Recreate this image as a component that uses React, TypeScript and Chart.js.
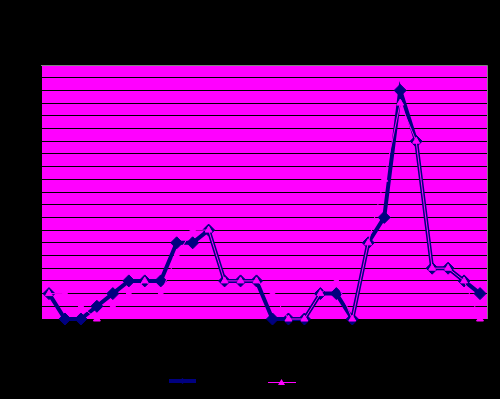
import React, { useEffect, useRef } from "react";
import { Chart, registerables } from "chart.js";

Chart.register(...registerables);

const categories = [
  "1", "2", "3", "4", "5", "6", "7", "8", "9", "10", "11", "12", "13", "14",
  "15", "16", "17", "18", "19", "20", "21", "22", "23", "24", "25", "26", "27", "28",
];
const navySeries = [2, 0, 0, 1, 2, 3, 3, 3, 6, 6, 7, 3, 3, 3, 0, 0, 0, 2, 2, 0, 6, 8, 18, 14, 4, 4, 3, 2];
const pinkSeries = [2, 2, 1, 0, 1, 2, 3, 2, 5, 7, 7, 3, 3, 3, 2, 0, 0, 2, 3, 0, 6, 11, 17, 14, 4, 4, 3, 0];
const yMin = 0;
const yMax = 20;
const yStep = 1;

const NAVY = "#000080";
const PINK = "#FF00FF";

const bgPlugin = {
  id: "bgPlugin",
  beforeDraw(chart: any) {
    const { ctx, chartArea } = chart;
    ctx.save();
    ctx.fillStyle = "#000000";
    ctx.fillRect(0, 0, chart.width, chart.height);
    ctx.fillStyle = PINK;
    ctx.fillRect(chartArea.left, chartArea.top, chartArea.right - chartArea.left, chartArea.bottom - chartArea.top);
    ctx.restore();
  },
  beforeDatasetsDraw(chart: any) {
    const { ctx, chartArea } = chart;
    ctx.save();
    ctx.strokeStyle = "#808080";
    ctx.lineWidth = 1;
    ctx.beginPath();
    ctx.moveTo(chartArea.left, chartArea.top + 0.5);
    ctx.lineTo(chartArea.right - 0.5, chartArea.top + 0.5);
    ctx.lineTo(chartArea.right - 0.5, chartArea.bottom);
    ctx.stroke();
    ctx.restore();
  },
  afterDraw(chart: any) {
    const { ctx } = chart;
    ctx.save();
    // navy legend sample
    ctx.strokeStyle = NAVY;
    ctx.lineWidth = 4;
    ctx.beginPath();
    ctx.moveTo(169, 381);
    ctx.lineTo(196, 381);
    ctx.stroke();
    ctx.fillStyle = NAVY;
    ctx.beginPath();
    ctx.moveTo(182.5, 378);
    ctx.lineTo(185.5, 381);
    ctx.lineTo(182.5, 384);
    ctx.lineTo(179.5, 381);
    ctx.closePath();
    ctx.fill();
    // pink legend sample
    ctx.strokeStyle = PINK;
    ctx.lineWidth = 1;
    ctx.beginPath();
    ctx.moveTo(268, 382.5);
    ctx.lineTo(296, 382.5);
    ctx.stroke();
    ctx.fillStyle = PINK;
    ctx.beginPath();
    ctx.moveTo(281.5, 379);
    ctx.lineTo(285, 385);
    ctx.lineTo(278, 385);
    ctx.closePath();
    ctx.fill();
    ctx.restore();
  },
};

export default function App() {
  const ref = useRef<HTMLCanvasElement | null>(null);

  useEffect(() => {
    if (!ref.current) return;
    const chart = new Chart(ref.current, {
      type: "line",
      data: {
        labels: categories,
        datasets: [
          {
            label: "Series1",
            data: navySeries,
            borderColor: NAVY,
            backgroundColor: NAVY,
            borderWidth: 4,
            pointStyle: "rectRot",
            pointRadius: 6,
            pointBorderWidth: 1,
            pointBackgroundColor: NAVY,
            pointBorderColor: NAVY,
            tension: 0,
            clip: false as any,
            order: 2,
          },
          {
            label: "Series2",
            data: pinkSeries,
            borderColor: PINK,
            backgroundColor: PINK,
            borderWidth: 1,
            pointStyle: "triangle",
            pointRadius: 4,
            pointBorderWidth: 1,
            pointBackgroundColor: PINK,
            pointBorderColor: PINK,
            tension: 0,
            clip: false as any,
            order: 1,
          },
        ],
      },
      options: {
        responsive: false,
        animation: false,
        devicePixelRatio: 1,
        layout: { padding: { left: 41, right: 12, top: 65, bottom: 80 } },
        plugins: {
          legend: { display: false },
          tooltip: { enabled: false },
          title: { display: false },
        },
        scales: {
          x: {
            type: "category",
            offset: true,
            display: false,
            grid: { display: false },
          },
          y: {
            min: yMin,
            max: yMax,
            ticks: { display: false, stepSize: yStep, color: "#000000" },
            grid: { color: "#000000", lineWidth: 1, drawTicks: false },
            border: { display: true, color: "#000000" },
            afterFit: (scale: any) => {
              scale.width = 0;
            },
          },
        },
      },
      plugins: [bgPlugin],
    });
    return () => chart.destroy();
  }, []);

  return (
    <div style={{ position: "fixed", left: 0, top: 0, width: 500, height: 399, background: "#000" }}>
      <canvas ref={ref} width={500} height={399} style={{ display: "block", width: 500, height: 399 }} />
    </div>
  );
}
